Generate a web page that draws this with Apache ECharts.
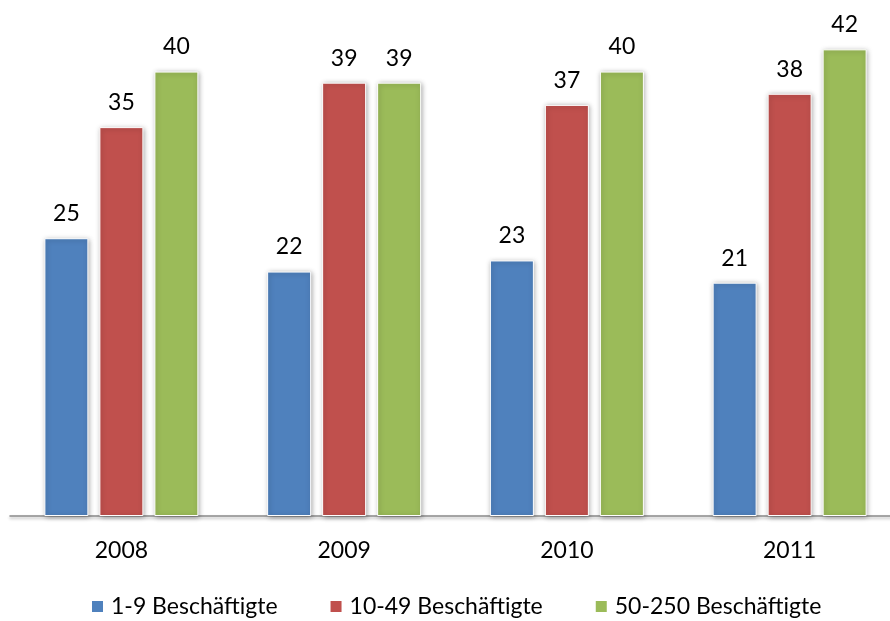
<!DOCTYPE html>
<html>
<head>
<meta charset="utf-8">
<script src="https://cdn.jsdelivr.net/npm/echarts@6/dist/echarts.min.js"></script>
<style>
  html, body { margin: 0; padding: 0; background: #ffffff; overflow: hidden; }
  /* canvas is a bit wider than the window so the last category band runs past the edge */
  #chart { width: 901px; height: 621px; }
</style>
</head>
<body>
<div id="chart"></div>
<script>
// Jahre und Anteile nach Betriebsgröße
const years = ['2008', '2009', '2010', '2011'];
const seriesNames = ['1-9 Beschäftigte', '10-49 Beschäftigte', '50-250 Beschäftigte'];
const small = [25, 22, 23, 21];
const medium = [35, 39, 37, 38];
const large = [40, 39, 40, 42];

const colors = ['#4F81BD', '#C0504D', '#9BBB59'];
const font = 'Lato, "Open Sans", sans-serif';
const fontSize = 23;

function barSeries(name, data, color) {
  return {
    name: name,
    type: 'bar',
    data: data,
    barWidth: 44,
    barGap: '25%',
    itemStyle: {
      color: color,
      borderColor: '#ffffff',
      borderWidth: 1,
      shadowColor: 'rgba(0,0,0,0.35)',
      shadowBlur: 5,
      shadowOffsetX: 1,
      shadowOffsetY: 1
    },
    label: {
      show: true,
      position: 'top',
      distance: 13,
      color: '#000000',
      fontFamily: font,
      fontSize: fontSize
    }
  };
}

const chart = echarts.init(document.getElementById('chart'));
chart.setOption({
  animation: false,
  backgroundColor: '#ffffff',
  grid: { left: 10, right: 0, top: 16, height: 500, containLabel: false },
  legend: {
    top: 595,
    left: 90,
    padding: 0,
    itemWidth: 13,
    itemHeight: 13,
    itemGap: 51,
    icon: 'rect',
    textStyle: { fontFamily: font, fontSize: fontSize, color: '#000000', padding: [0, 0, 0, 2] },
    data: seriesNames
  },
  xAxis: {
    type: 'category',
    data: years,
    axisLine: {
      lineStyle: { color: '#8a8a8a', width: 1.5, shadowColor: 'rgba(0,0,0,0.3)', shadowBlur: 3, shadowOffsetY: 2 }
    },
    axisTick: { show: false },
    axisLabel: { color: '#000000', fontFamily: font, fontSize: fontSize, margin: 23 }
  },
  yAxis: {
    type: 'value',
    min: 0,
    max: 45,
    show: false,
    splitLine: { show: false }
  },
  series: [
    barSeries(seriesNames[0], small, colors[0]),
    barSeries(seriesNames[1], medium, colors[1]),
    barSeries(seriesNames[2], large, colors[2])
  ]
});
</script>
</body>
</html>
